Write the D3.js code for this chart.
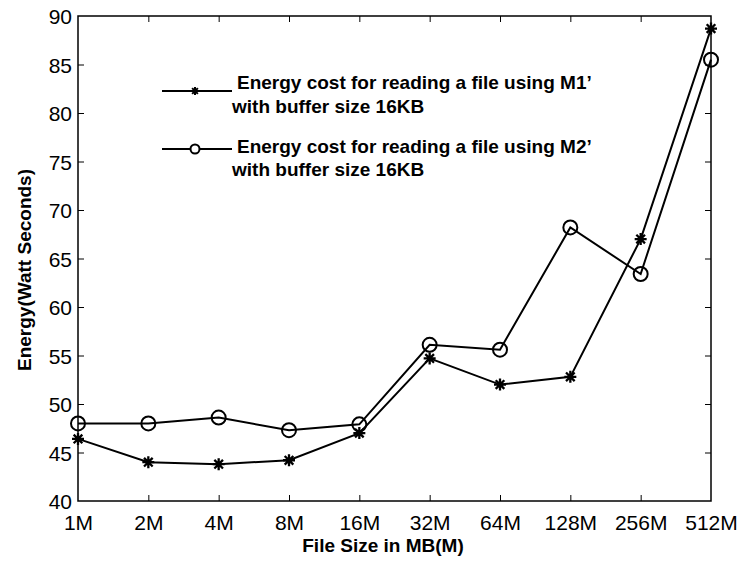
<!DOCTYPE html>
<html>
<head>
<meta charset="utf-8">
<script src="https://cdn.jsdelivr.net/npm/d3@7"></script>
<style>
  body { margin: 0; background: #fff; }
  svg { display: block; font-family: "Liberation Sans", Arial, sans-serif; }
</style>
</head>
<body>
<svg id="chart" width="743" height="562"></svg>
<script>
// File sizes on the x axis
const categories = ["1M", "2M", "4M", "8M", "16M", "32M", "64M", "128M", "256M", "512M"];
// Energy in watt seconds for each method
const m1Values = [46.4, 44.0, 43.8, 44.2, 47.0, 54.7, 52.0, 52.8, 67.0, 88.7];
const m2Values = [48.0, 48.0, 48.6, 47.3, 47.9, 56.1, 55.6, 68.2, 63.4, 85.5];
const yTicks = [40, 45, 50, 55, 60, 65, 70, 75, 80, 85, 90];
const legendLabels = [
  ["Energy cost for reading a file using M1\u2019", "with buffer size 16KB"],
  ["Energy cost for reading a file using M2\u2019", "with buffer size 16KB"]
];

const svg = d3.select("#chart");
const plot = { left: 78, right: 711, top: 16, bottom: 501 };

const x = d3.scalePoint().domain(categories).range([plot.left, plot.right]);
const y = d3.scaleLinear().domain([40, 90]).range([plot.bottom, plot.top]);

const tickLen = 6;

// Frame
svg.append("rect")
  .attr("x", plot.left).attr("y", plot.top)
  .attr("width", plot.right - plot.left).attr("height", plot.bottom - plot.top)
  .attr("fill", "none").attr("stroke", "#000").attr("stroke-width", 1.5);

// Axes with inward ticks
const xAxis = svg.append("g").attr("transform", `translate(0,${plot.bottom})`)
  .call(d3.axisBottom(x).tickSize(-tickLen).tickPadding(14));
const xAxisTop = svg.append("g").attr("transform", `translate(0,${plot.top})`)
  .call(d3.axisTop(x).tickSize(-tickLen).tickFormat(""));
const yAxis = svg.append("g").attr("transform", `translate(${plot.left},0)`)
  .call(d3.axisLeft(y).tickValues(yTicks).tickSize(-tickLen).tickPadding(6));
const yAxisRight = svg.append("g").attr("transform", `translate(${plot.right},0)`)
  .call(d3.axisRight(y).tickValues(yTicks).tickSize(-tickLen).tickFormat(""));

[xAxis, xAxisTop, yAxis, yAxisRight].forEach(g => {
  g.select(".domain").remove();
  g.selectAll(".tick line").attr("stroke", "#000").attr("stroke-width", 1);
  g.selectAll(".tick text").attr("fill", "#000").attr("font-size", 21)
    .attr("font-family", "Liberation Sans, Arial, sans-serif");
});
xAxis.selectAll(".tick line").filter((d, i) => i === 0 || i === categories.length - 1).remove();
xAxisTop.selectAll(".tick line").filter((d, i) => i === 0 || i === categories.length - 1).remove();
yAxis.selectAll(".tick line").filter(d => d === 40 || d === 90).remove();
yAxisRight.selectAll(".tick line").filter(d => d === 40 || d === 90).remove();
yAxis.selectAll(".tick text").attr("dy", "0.36em");

// Axis titles
svg.append("text")
  .attr("x", 383).attr("y", 552)
  .attr("text-anchor", "middle")
  .attr("font-size", 19).attr("font-weight", "bold")
  .text("File Size in MB(M)");
svg.append("text")
  .attr("transform", "translate(31,270) rotate(-90)")
  .attr("text-anchor", "middle")
  .attr("font-size", 19).attr("font-weight", "bold")
  .text("Energy(Watt Seconds)");

// Marker shapes
function starPath(cx, cy, r) {
  const d = r * 0.72;
  return `M${cx - r},${cy}L${cx + r},${cy}M${cx},${cy - r}L${cx},${cy + r}` +
         `M${cx - d},${cy - d}L${cx + d},${cy + d}M${cx - d},${cy + d}L${cx + d},${cy - d}`;
}

const line = d3.line().x((d, i) => x(categories[i])).y(d => y(d));

// Series lines
[m1Values, m2Values].forEach(vals => {
  svg.append("path").datum(vals)
    .attr("d", line)
    .attr("fill", "none").attr("stroke", "#000").attr("stroke-width", 2);
});

// Star markers for M1
svg.append("g").selectAll("path").data(m1Values).join("path")
  .attr("d", (d, i) => starPath(x(categories[i]), y(d), 6))
  .attr("stroke", "#000").attr("stroke-width", 2.3).attr("fill", "none");

// Circle markers for M2
svg.append("g").selectAll("circle").data(m2Values).join("circle")
  .attr("cx", (d, i) => x(categories[i])).attr("cy", d => y(d))
  .attr("r", 7).attr("fill", "none").attr("stroke", "#000").attr("stroke-width", 2);

// Legend
const legend = svg.append("g");
const legendRows = [
  { lineY: 91, textY: [89, 113], textX: [237, 232], marker: "star" },
  { lineY: 149, textY: [153, 176], textX: [237, 232], marker: "circle" }
];
legendRows.forEach((row, k) => {
  legend.append("line")
    .attr("x1", 162).attr("x2", 232).attr("y1", row.lineY).attr("y2", row.lineY)
    .attr("stroke", "#000").attr("stroke-width", 2);
  if (row.marker === "star") {
    legend.append("path").attr("d", starPath(195, row.lineY, 4))
      .attr("stroke", "#000").attr("stroke-width", 2).attr("fill", "none");
  } else {
    legend.append("circle").attr("cx", 195).attr("cy", row.lineY).attr("r", 4.5)
      .attr("fill", "#fff").attr("stroke", "#000").attr("stroke-width", 2);
  }
  legendLabels[k].forEach((t, j) => {
    legend.append("text")
      .attr("x", row.textX[j]).attr("y", row.textY[j])
      .attr("font-size", 19).attr("font-weight", "bold")
      .text(t);
  });
});
</script>
</body>
</html>
